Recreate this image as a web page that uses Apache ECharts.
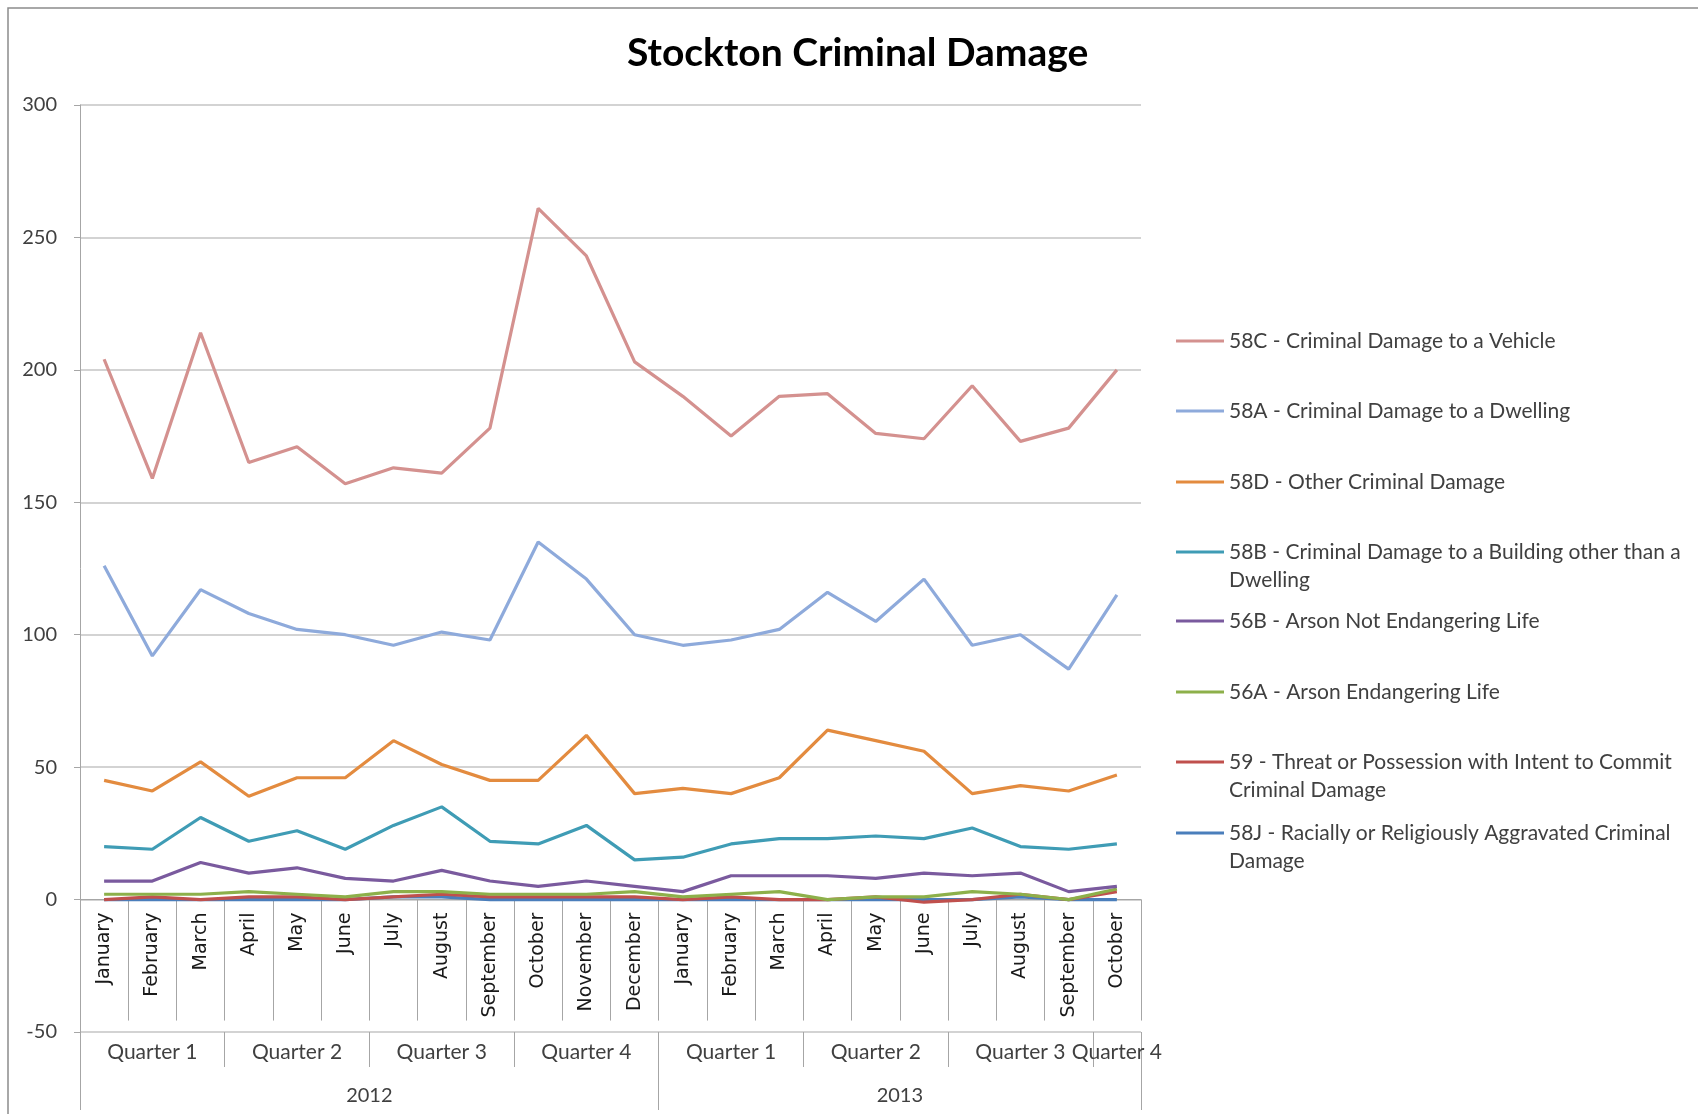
<!DOCTYPE html>
<html>
<head>
<meta charset="utf-8">
<script src="https://cdn.jsdelivr.net/npm/echarts@6/dist/echarts.min.js"></script>
<style>
html,body{margin:0;padding:0;background:#fff;}
#chart{width:1698px;height:1114px;}
</style>
</head>
<body>
<div id="chart"></div>
<script>
// ---- data ----
const months = ['January','February','March','April','May','June','July','August','September','October','November','December',
                'January','February','March','April','May','June','July','August','September','October'];
const quarterLabels = ['Quarter 1','Quarter 2','Quarter 3','Quarter 4','Quarter 1','Quarter 2','Quarter 3','Quarter 4'];
const quarterSpans  = [3,3,3,3,3,3,3,1];
const yearLabels = ['2012','2013'];
const yearSpans  = [12,10];
const yTicks = [-50,0,50,100,150,200,250,300];

const s58C = [204,159,214,165,171,157,163,161,178,261,243,203,190,175,190,191,176,174,194,173,178,200];
const s58A = [126,92,117,108,102,100,96,101,98,135,121,100,96,98,102,116,105,121,96,100,87,115];
const s58D = [45,41,52,39,46,46,60,51,45,45,62,40,42,40,46,64,60,56,40,43,41,47];
const s58B = [20,19,31,22,26,19,28,35,22,21,28,15,16,21,23,23,24,23,27,20,19,21];
const s56B = [7,7,14,10,12,8,7,11,7,5,7,5,3,9,9,9,8,10,9,10,3,5];
const s56A = [2,2,2,3,2,1,3,3,2,2,2,3,1,2,3,0,1,1,3,2,0,4];
const s59  = [0,1,0,1,1,0,1,2,1,1,1,1,0,1,0,0,1,-1,0,2,0,3];
const s58J = [0,0,0,0,0,0,1,1,0,0,0,0,0,0,0,0,0,0,0,1,0,0];

const seriesNames = [
  '58C - Criminal Damage to a Vehicle',
  '58A - Criminal Damage to a Dwelling',
  '58D - Other Criminal Damage',
  '58B - Criminal Damage to a Building other than a Dwelling',
  '56B - Arson Not Endangering Life',
  '56A - Arson Endangering Life',
  '59 - Threat or Possession with Intent to Commit Criminal Damage',
  '58J - Racially or Religiously Aggravated Criminal Damage'
];
const seriesValues = [s58C,s58A,s58D,s58B,s56B,s56A,s59,s58J];
const legendLines = [
  ['58C - Criminal Damage to a Vehicle'],
  ['58A - Criminal Damage to a Dwelling'],
  ['58D - Other Criminal Damage'],
  ['58B - Criminal Damage to a Building other than a','Dwelling'],
  ['56B - Arson Not Endangering Life'],
  ['56A - Arson Endangering Life'],
  ['59 - Threat or Possession with Intent to Commit','Criminal Damage'],
  ['58J - Racially or Religiously Aggravated Criminal','Damage']
];

// ---- styles ----
const colors = ['#d4918f','#8eaadb','#e38b3f','#3f9cb5','#7a5a9e','#8db04a','#c0504d','#4a7ebb'];
const FONT = 'Lato';
const txt = '#404040';
const gridColor = '#c4c4c4';
const axisColor = '#a6a6a6';

const GRID = {left:80,right:557,top:105,bottom:82};
const plotH = 1114 - GRID.top - GRID.bottom;
const yMin = yTicks[0], yMax = yTicks[yTicks.length-1];
const zeroOffset = -plotH * (0 - yMin) / (yMax - yMin); // lift month axis to the zero line

// half-month slot axes for grouped levels (boundaryGap false)
const nMonths = months.length;
const slots = [];
for (let k = 0; k <= nMonths*2; k++) slots.push(String(k));
function groupInfo(labels, spans){
  const labelAt = {}; const ticks = new Set([0]);
  let start = 0;
  labels.forEach((l,i)=>{
    const end = start + spans[i];
    labelAt[start + end] = l;
    ticks.add(end*2);
    start = end;
  });
  return {labelAt, ticks};
}
const qInfo = groupInfo(quarterLabels, quarterSpans);
const yInfo = groupInfo(yearLabels, yearSpans);

const chart = echarts.init(document.getElementById('chart'));
const legendCenters = [336,406,477,547,616,687,757,828];
const LH = 28;
const legends = seriesNames.map((name,i)=>{
  const lines = legendLines[i];
  const multi = lines.length > 1;
  return {
    data:[name],
    left:1171,
    top: multi ? legendCenters[i] - LH*1.5 : legendCenters[i] - LH/2,
    orient:'vertical',
    icon:'rect',
    itemWidth:48,
    itemHeight:3,
    selectedMode:false,
    formatter: () => multi ? '\n' + lines.join('\n') : lines[0],
    textStyle:{fontFamily:FONT,fontSize:21,color:txt,lineHeight:LH}
  };
});

const option = {
  animation:false,
  backgroundColor:'#fff',
  title:{
    text:'Stockton Criminal Damage',
    left:622, top:29,
    textStyle:{fontFamily:FONT,fontWeight:'bold',fontSize:39,color:'#000'}
  },
  graphic:[{type:'rect',shape:{x:8,y:8,width:1800,height:1300},style:{fill:'none',stroke:'#8c8c8c',lineWidth:1.5},silent:true,z:-1}],
  legend:legends,
  grid:Object.assign({containLabel:false,outerBoundsMode:'none'}, GRID),
  xAxis:[
    {
      type:'category', data:months, boundaryGap:true, position:'bottom', offset:zeroOffset,
      axisLine:{onZero:false,lineStyle:{color:axisColor,width:1}},
      axisTick:{show:true,length:121,interval:0,lineStyle:{color:axisColor}},
      axisLabel:{interval:0,rotate:90,margin:13,fontFamily:'DejaVu Sans',fontSize:19,color:'#1a1a1a'},
      splitLine:{show:false}
    },
    {
      type:'category', data:slots, boundaryGap:false, position:'bottom', offset:0,
      axisLine:{onZero:false,show:false},
      axisTick:{show:true,length:35,interval:(i)=>qInfo.ticks.has(i),lineStyle:{color:axisColor}},
      axisLabel:{interval:0,margin:10,hideOverlap:false,fontFamily:FONT,fontSize:21,color:txt,
                 formatter:(v,i)=>qInfo.labelAt[i]||''},
      splitLine:{show:false}
    },
    {
      type:'category', data:slots, boundaryGap:false, position:'bottom', offset:0,
      axisLine:{onZero:false,show:false},
      axisTick:{show:true,length:78,interval:(i)=>yInfo.ticks.has(i),lineStyle:{color:axisColor}},
      axisLabel:{interval:0,margin:54,hideOverlap:false,fontFamily:FONT,fontSize:20,color:txt,
                 formatter:(v,i)=>yInfo.labelAt[i]||''},
      splitLine:{show:false}
    }
  ],
  yAxis:{
    type:'value', min:yMin, max:yMax, interval:50,
    axisLine:{show:true,lineStyle:{color:axisColor}},
    axisTick:{show:true,length:6,lineStyle:{color:axisColor}},
    axisLabel:{margin:23,fontFamily:FONT,fontSize:20,color:txt},
    splitLine:{show:true,lineStyle:{color:gridColor,width:1.5}}
  },
  series: seriesNames.map((name,i)=>({
    name, type:'line', xAxisIndex:0, data:seriesValues[i],
    symbol:'none', smooth:false,
    lineStyle:{color:colors[i],width:3.2},
    itemStyle:{color:colors[i]},
    z: 10 + (seriesNames.length - i)
  }))
};
chart.setOption(option);
</script>
</body>
</html>
